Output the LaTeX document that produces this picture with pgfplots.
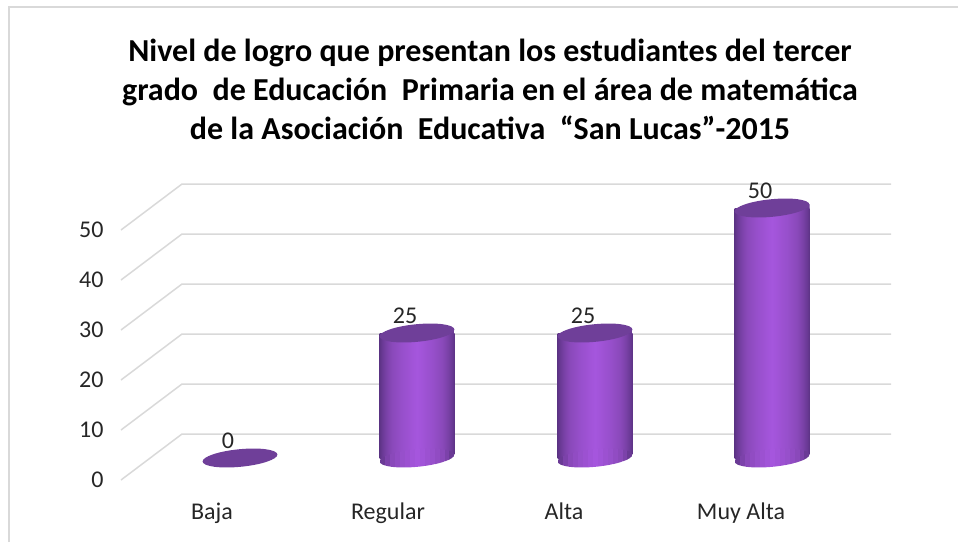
\documentclass[border=0pt]{standalone}
\usepackage{pgfplots}
\pgfplotsset{compat=1.18}
\usepackage{fontspec}
\setmainfont{Carlito}
\definecolor{gridc}{HTML}{D9D9D9}
\definecolor{framec}{HTML}{D9D9D9}
\definecolor{topc}{HTML}{6F3F99}
\definecolor{txt}{HTML}{262626}
\definecolor{cA}{HTML}{5C3385}
\definecolor{cB}{HTML}{8A49BA}
\definecolor{cC}{HTML}{A556DD}
\colorlet{s1}{cA!70!cB}
\colorlet{s2}{cB!70!cA}
\colorlet{s3}{cB}
\colorlet{s4}{cB!75!cC}
\colorlet{s5}{cB!50!cC}
\colorlet{s6}{cB!35!cC}
\colorlet{s7}{cB!15!cC}
\colorlet{s8}{cC}
\pgfdeclarehorizontalshading{cyl}{100bp}{
 color(0bp)=(cA); color(25bp)=(cA); color(26.7bp)=(s1); color(30bp)=(s2); color(33.3bp)=(s3);
 color(36.7bp)=(s4); color(40bp)=(s5); color(43.3bp)=(s6); color(46.7bp)=(s7); color(50bp)=(s8);
 color(53.3bp)=(s7); color(56.7bp)=(s6); color(60bp)=(s5); color(63.3bp)=(s4);
 color(66.7bp)=(s3); color(70bp)=(s2); color(73.3bp)=(s1); color(75bp)=(cA); color(100bp)=(cA)}
\newcommand\st[2]{\pgfsetfillcolor{#2}\pgfpathrectangle{\pgfpoint{#1pt}{-14pt}}{\pgfpoint{5.2pt}{28pt}}\pgfusepath{fill}}
\newcommand\allstrips{%
  \st{-37.5}{s1}\st{-32.5}{s2}\st{-27.5}{s3}\st{-22.5}{s4}\st{-17.5}{s5}\st{-12.5}{s6}\st{-7.5}{s7}%
  \st{-2.5}{s8}\st{2.5}{s7}\st{7.5}{s6}\st{12.5}{s5}\st{17.5}{s4}\st{22.5}{s3}\st{27.5}{s2}\st{32.3}{s1}}
\pgfdeclareplotmark{cyltop}{%
  \pgfpathellipse{\pgfpointorigin}{\pgfpoint{37.4pt}{3.6pt}}{\pgfpoint{-0.84pt}{8.76pt}}%
  \pgfsetfillcolor{topc}\pgfusepath{fill}}
\pgfdeclareplotmark{cylbot}{%
  \begin{pgfscope}%
  \pgfpathellipse{\pgfpointorigin}{\pgfpoint{37.4pt}{3.6pt}}{\pgfpoint{-0.84pt}{8.76pt}}%
  \pgfusepath{clip}\allstrips
  \end{pgfscope}}
\pgfdeclareplotmark{cylhead}{%
  \begin{pgfscope}%
  \pgfpathmoveto{\pgfpoint{-1pt}{-0.5pt}}\pgfpathlineto{\pgfpoint{37.5pt}{3.6pt}}%
  \pgfpathlineto{\pgfpoint{37.5pt}{-0.5pt}}\pgfpathclose
  \pgfusepath{clip}\allstrips
  \end{pgfscope}}
\pgfdeclareplotmark{cylcut}{%
  \pgfpathmoveto{\pgfpoint{0pt}{0pt}}\pgfpathlineto{\pgfpoint{38.5pt}{3.7pt}}%
  \pgfpathlineto{\pgfpoint{38.5pt}{-1pt}}\pgfpathlineto{\pgfpoint{0pt}{-1pt}}\pgfpathclose
  \pgfsetfillcolor{white}\pgfusepath{fill}}
\pgfplotstableread{
x v
240 0
417 25
595 25
772 50
}\data
\pgfplotstableread{
x v
417 25
595 25
772 50
}\bars
\pgfplotstableread{
x v
417 0
595 0
772 0
}\bases
\begin{document}
\begin{tikzpicture}[x=1pt,y=1pt]
\path[use as bounding box] (0,0) rectangle (958,542);
% frame
\draw[framec,line width=2pt] (9,0) -- (9,535) -- (958,535);
\node[font=\fontsize{32}{39}\selectfont\bfseries, align=center, text=black, inner sep=0pt] at (490,453)
 {Nivel de logro que presentan los estudiantes del tercer\\
  grado\ \ de Educación\ \ Primaria en el área de matemática\\
  de la Asociación\ \ Educativa\ \ “San Lucas”-2015};
\begin{axis}[
  at={(121pt,42pt)}, anchor=south west,
  scale only axis, width=779pt, height=330pt,
  xmin=121, xmax=900, ymin=-8.4, ymax=57.6,
  clip=false,
  axis line style={draw=none},
  major tick length=0pt,
  xtick={212,388,564,741},
  xticklabels={Baja,Regular,Alta,Muy Alta},
  ytick={-4.4,5.6,15.6,25.6,35.6,45.6},
  yticklabels={0,10,20,30,40,50},
  tick label style={font=\fontsize{24}{28}\selectfont, text=txt},
  /pgf/number format/assume math mode=true,
  yticklabel style={xshift=-14pt},
  xticklabel style={yshift=1pt},
]
\addplot[gridc,line width=1.5pt] coordinates {(121,-4.4)(182,4.8)(891,4.8)};
\addplot[gridc,line width=1.5pt] coordinates {(121,5.6)(182,14.8)(891,14.8)};
\addplot[gridc,line width=1.5pt] coordinates {(121,15.6)(182,24.8)(891,24.8)};
\addplot[gridc,line width=1.5pt] coordinates {(121,25.6)(182,34.8)(891,34.8)};
\addplot[gridc,line width=1.5pt] coordinates {(121,35.6)(182,44.8)(891,44.8)};
\addplot[gridc,line width=1.5pt] coordinates {(121,45.6)(182,54.8)(891,54.8)};
\addplot[ybar, bar width=75pt, bar shift=0pt, draw=none, shading=cyl] coordinates {(417,25)};
\addplot[ybar, bar width=75pt, bar shift=0pt, draw=none, shading=cyl] coordinates {(595,25)};
\addplot[ybar, bar width=75pt, bar shift=0pt, draw=none, shading=cyl] coordinates {(772,50)};
\addplot[only marks, mark=cylcut] table[x=x,y=v] {\bases};
\addplot[only marks, mark=cylbot] table[x=x,y=v] {\bases};
\addplot[only marks, mark=cylhead] table[x=x,y=v] {\bars};
\addplot[only marks, mark=cyltop,
  nodes near coords, point meta=explicit symbolic,
  nodes near coords style={anchor=center, xshift=-12pt, yshift=17pt, font=\fontsize{24}{28}\selectfont, text=txt}]
  table[x=x,y=v,meta=v] {\data};
\end{axis}
\end{tikzpicture}
\end{document}
